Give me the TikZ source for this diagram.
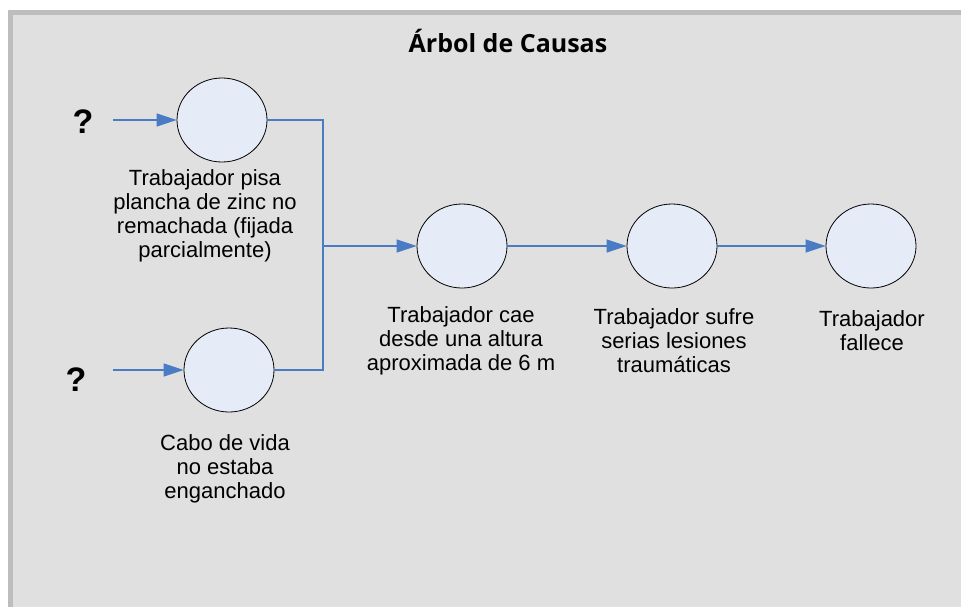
\documentclass[tikz,border=0pt]{standalone}
\usepackage{fontspec}
\setmainfont{Liberation Sans}
\newfontfamily\titlefont{Open Sans}
\usetikzlibrary{shapes.geometric,arrows.meta}
\definecolor{bggray}{HTML}{E0E0E0}
\definecolor{framegray}{HTML}{BDBDBD}
\definecolor{linkblue}{HTML}{4A7CC4}
\definecolor{evfill}{HTML}{E6ECF7}
\begin{document}
\begin{tikzpicture}[x=1pt,y=-1pt,
 event/.style={ellipse, draw=black, line width=0.8pt, fill=evfill, minimum width=90pt, minimum height=84pt, inner sep=0pt},
 lbl/.style={align=center, font=\fontsize{22}{24}\selectfont, inner sep=0pt},
 qmark/.style={font=\fontsize{34}{34}\selectfont\bfseries, anchor=base, inner sep=0pt},
 link/.style={draw=linkblue, line width=1.1pt},
 arr/.style={link, -{Triangle[length=20pt,width=13pt]}}
]
\useasboundingbox (0,0) rectangle (961,606);
\fill[white] (-5,-5) rectangle (970,615);
\fill[bggray] (8,10) rectangle (970,615);
\fill[framegray] (8,10) rectangle (970,15);
\fill[framegray] (8,10) rectangle (13,615);

\node[anchor=base, inner sep=0pt, font=\titlefont\fontsize{25}{25}\selectfont\bfseries] (title) at (508,52) {Árbol de Causas};

\node[event] (A) at (222,120) {};
\node[event] (B) at (229,370) {};
\node[event] (C) at (462,246) {};
\node[event] (D) at (672,246) {};
\node[event] (E) at (871,246) {};

\node[lbl] (la) at (205,216) {Trabajador pisa\\plancha de zinc no\\remachada (fijada\\parcialmente)};
\node[lbl] (lb) at (225,469) {Cabo de vida\\no estaba\\enganchado};
\node[lbl] (lc) at (461,341) {Trabajador cae\\desde una altura\\aproximada de 6 m};
\node[lbl] (ld) at (674,341) {Trabajador sufre\\serias lesiones\\traumáticas};
\node[lbl] (le) at (872,331) {Trabajador\\fallece};

\node[qmark] (q1) at (83,133) {?};
\node[qmark] (q2) at (76,391) {?};

\coordinate (s1) at (113,120);
\coordinate (s2) at (113,370);
\coordinate (J) at (323,246);

\draw[arr] (s1) -- (A.west);
\draw[arr] (s2) -- (B.west);
\draw[link] (A.east) -| (J);
\draw[link] (B.east) -| (J);
\draw[arr] (J) -- (C.west);
\draw[arr] (C.east) -- (D.west);
\draw[arr] (D.east) -- (E.west);
\end{tikzpicture}
\end{document}
